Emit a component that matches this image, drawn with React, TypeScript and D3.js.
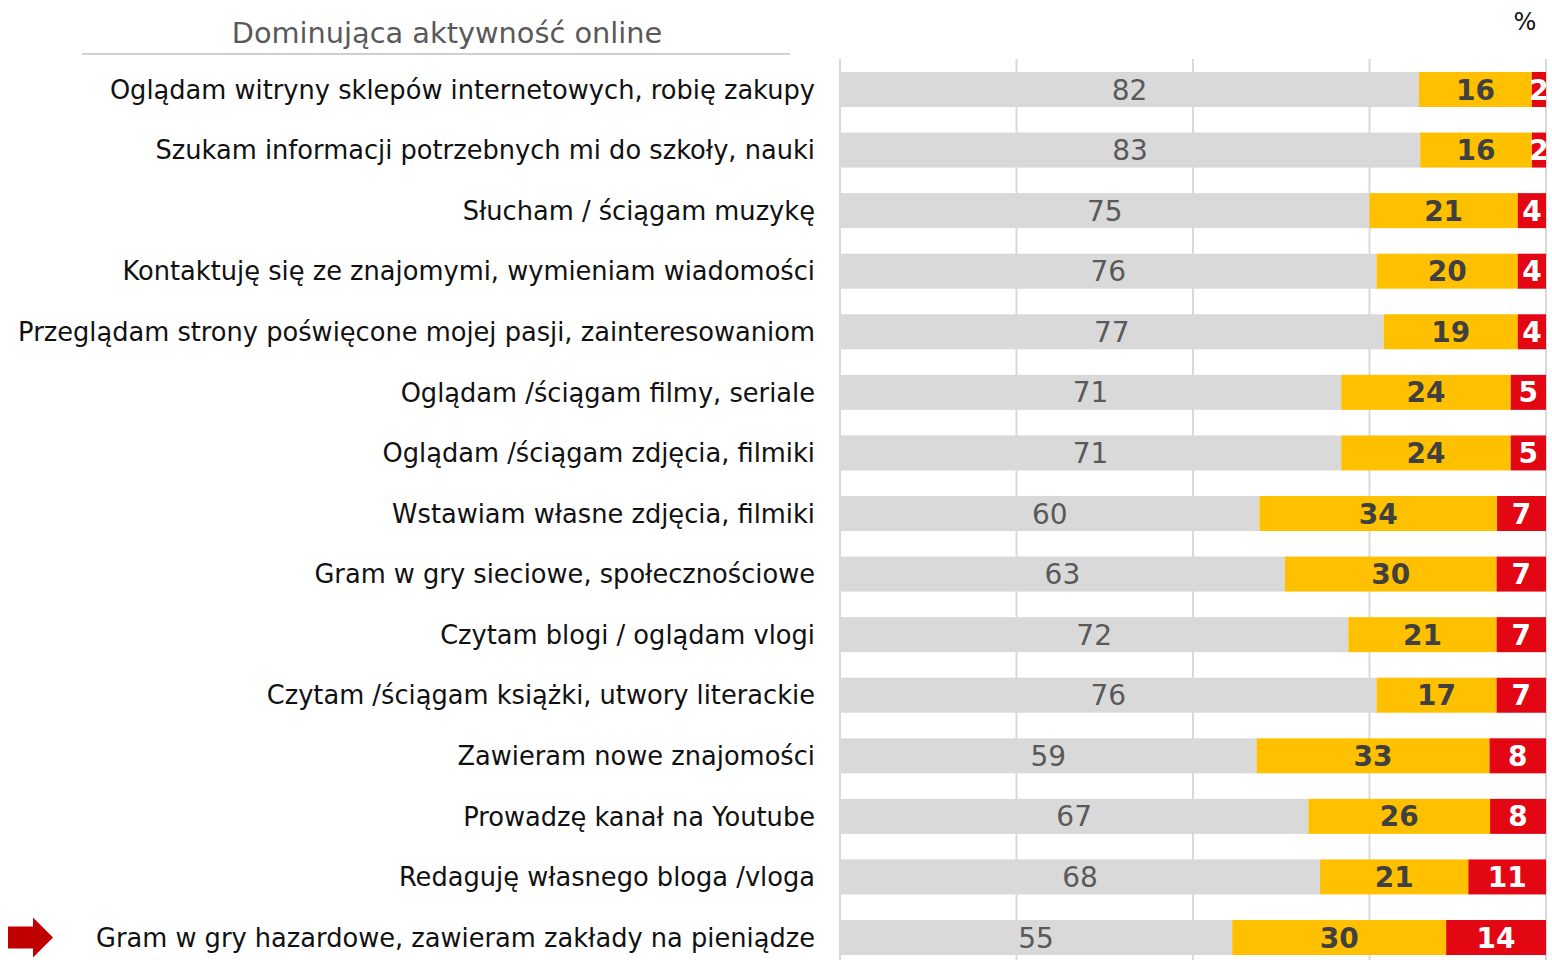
import React, { useEffect, useRef } from "react";
import * as d3 from "d3";

const categories = [
  "Oglądam witryny sklepów internetowych, robię zakupy",
  "Szukam informacji potrzebnych mi do szkoły, nauki",
  "Słucham / ściągam muzykę",
  "Kontaktuję się ze znajomymi, wymieniam wiadomości",
  "Przeglądam strony poświęcone mojej pasji, zainteresowaniom",
  "Oglądam /ściągam filmy, seriale",
  "Oglądam /ściągam zdjęcia, filmiki",
  "Wstawiam własne zdjęcia, filmiki",
  "Gram w gry sieciowe, społecznościowe",
  "Czytam blogi / oglądam vlogi",
  "Czytam /ściągam książki, utwory literackie",
  "Zawieram nowe znajomości",
  "Prowadzę kanał na Youtube",
  "Redaguję własnego bloga /vloga",
  "Gram w gry hazardowe, zawieram zakłady na pieniądze",
];

const grayValues = [82, 83, 75, 76, 77, 71, 71, 60, 63, 72, 76, 59, 67, 68, 55];
const yellowValues = [16, 16, 21, 20, 19, 24, 24, 34, 30, 21, 17, 33, 26, 21, 30];
const redValues = [2, 2, 4, 4, 4, 5, 5, 7, 7, 7, 7, 8, 8, 11, 14];

const seriesKeys = ["gray", "yellow", "red"];
const ticks = [0, 0.25, 0.5, 0.75, 1];

const title = "Dominująca aktywność online";
const FONT = "'DejaVu Sans', sans-serif";

const App = () => {
  const svgRef = useRef<SVGSVGElement>(null);

  useEffect(() => {
    const svg = d3.select(svgRef.current);
    svg.selectAll("*").remove();

    const width = 1552;
    const height = 960;
    const left = 840;
    const right = 1546;

    svg.attr("width", width).attr("height", height);

    const rows = categories.map((c, i) => ({
      cat: c,
      gray: grayValues[i],
      yellow: yellowValues[i],
      red: redValues[i],
    }));

    // 100% stacked
    const stack = d3
      .stack<any>()
      .keys(seriesKeys)
      .offset(d3.stackOffsetExpand);
    const layers = stack(rows);

    const x = d3.scaleLinear().domain([0, 1]).range([left, right]);
    const y = d3
      .scaleBand()
      .domain(categories)
      .range([59.2, 967.8])
      .paddingInner(0.422)
      .paddingOuter(0.211);

    const color = d3
      .scaleOrdinal<string>()
      .domain(seriesKeys)
      .range(["#d9d9d9", "#ffc000", "#e30613"]);

    svg
      .append("defs")
      .append("clipPath")
      .attr("id", "plotClip")
      .append("rect")
      .attr("x", left)
      .attr("y", 0)
      .attr("width", right - left)
      .attr("height", height);

    // grid
    svg
      .append("g")
      .selectAll("line")
      .data(ticks)
      .enter()
      .append("line")
      .attr("x1", (d) => x(d))
      .attr("x2", (d) => x(d))
      .attr("y1", 59)
      .attr("y2", height)
      .attr("stroke", "#d9d9d9")
      .attr("stroke-width", 2);

    const plot = svg.append("g").attr("clip-path", "url(#plotClip)");

    const layerG = plot
      .selectAll("g.layer")
      .data(layers)
      .enter()
      .append("g")
      .attr("class", "layer")
      .attr("fill", (d) => color(d.key));

    layerG
      .selectAll("rect")
      .data((d) => d)
      .enter()
      .append("rect")
      .attr("x", (d) => x(d[0]))
      .attr("width", (d) => x(d[1]) - x(d[0]))
      .attr("y", (d) => y(d.data.cat)!)
      .attr("height", y.bandwidth());

    const labelStyle: Record<string, { fill: string; weight: string }> = {
      gray: { fill: "#595959", weight: "normal" },
      yellow: { fill: "#404040", weight: "bold" },
      red: { fill: "#ffffff", weight: "bold" },
    };

    layers.forEach((layer) => {
      const st = labelStyle[layer.key];
      plot
        .append("g")
        .selectAll("text")
        .data(layer)
        .enter()
        .append("text")
        .attr("x", (d) => (x(d[0]) + x(d[1])) / 2)
        .attr("y", (d) => y(d.data.cat)! + y.bandwidth() / 2)
        .attr("dy", "0.36em")
        .attr("text-anchor", "middle")
        .style("font-family", FONT)
        .style("font-size", "28px")
        .style("font-weight", st.weight)
        .style("fill", st.fill)
        .text((d) => d.data[layer.key]);
    });

    // category labels
    svg
      .append("g")
      .selectAll("text")
      .data(categories)
      .enter()
      .append("text")
      .attr("x", 815)
      .attr("y", (d) => y(d)! + y.bandwidth() / 2)
      .attr("dy", "0.36em")
      .attr("text-anchor", "end")
      .style("font-family", FONT)
      .style("font-size", "25.7px")
      .style("fill", "#111")
      .text((d) => d);

    // title
    svg
      .append("text")
      .attr("x", 447)
      .attr("y", 43)
      .attr("text-anchor", "middle")
      .style("font-family", FONT)
      .style("font-size", "28.8px")
      .style("fill", "#595959")
      .text(title);

    svg
      .append("line")
      .attr("x1", 82)
      .attr("x2", 790)
      .attr("y1", 54)
      .attr("y2", 54)
      .attr("stroke", "#d0d0d0")
      .attr("stroke-width", 2);

    svg
      .append("text")
      .attr("x", 1525)
      .attr("y", 30)
      .attr("text-anchor", "middle")
      .style("font-family", FONT)
      .style("font-size", "24px")
      .style("fill", "#111")
      .text("%");

    // arrow marking the last row
    const cy = y(categories[categories.length - 1])! + y.bandwidth() / 2;
    const arrow = d3.path();
    arrow.moveTo(8, cy - 11);
    arrow.lineTo(33, cy - 11);
    arrow.lineTo(33, cy - 20);
    arrow.lineTo(53, cy);
    arrow.lineTo(33, cy + 20);
    arrow.lineTo(33, cy + 11);
    arrow.lineTo(8, cy + 11);
    arrow.closePath();
    svg.append("path").attr("d", arrow.toString()).attr("fill", "#c00000");
  }, []);

  return (
    <svg
      ref={svgRef}
      style={{ position: "absolute", left: 0, top: 0, display: "block" }}
    ></svg>
  );
};

export default App;
